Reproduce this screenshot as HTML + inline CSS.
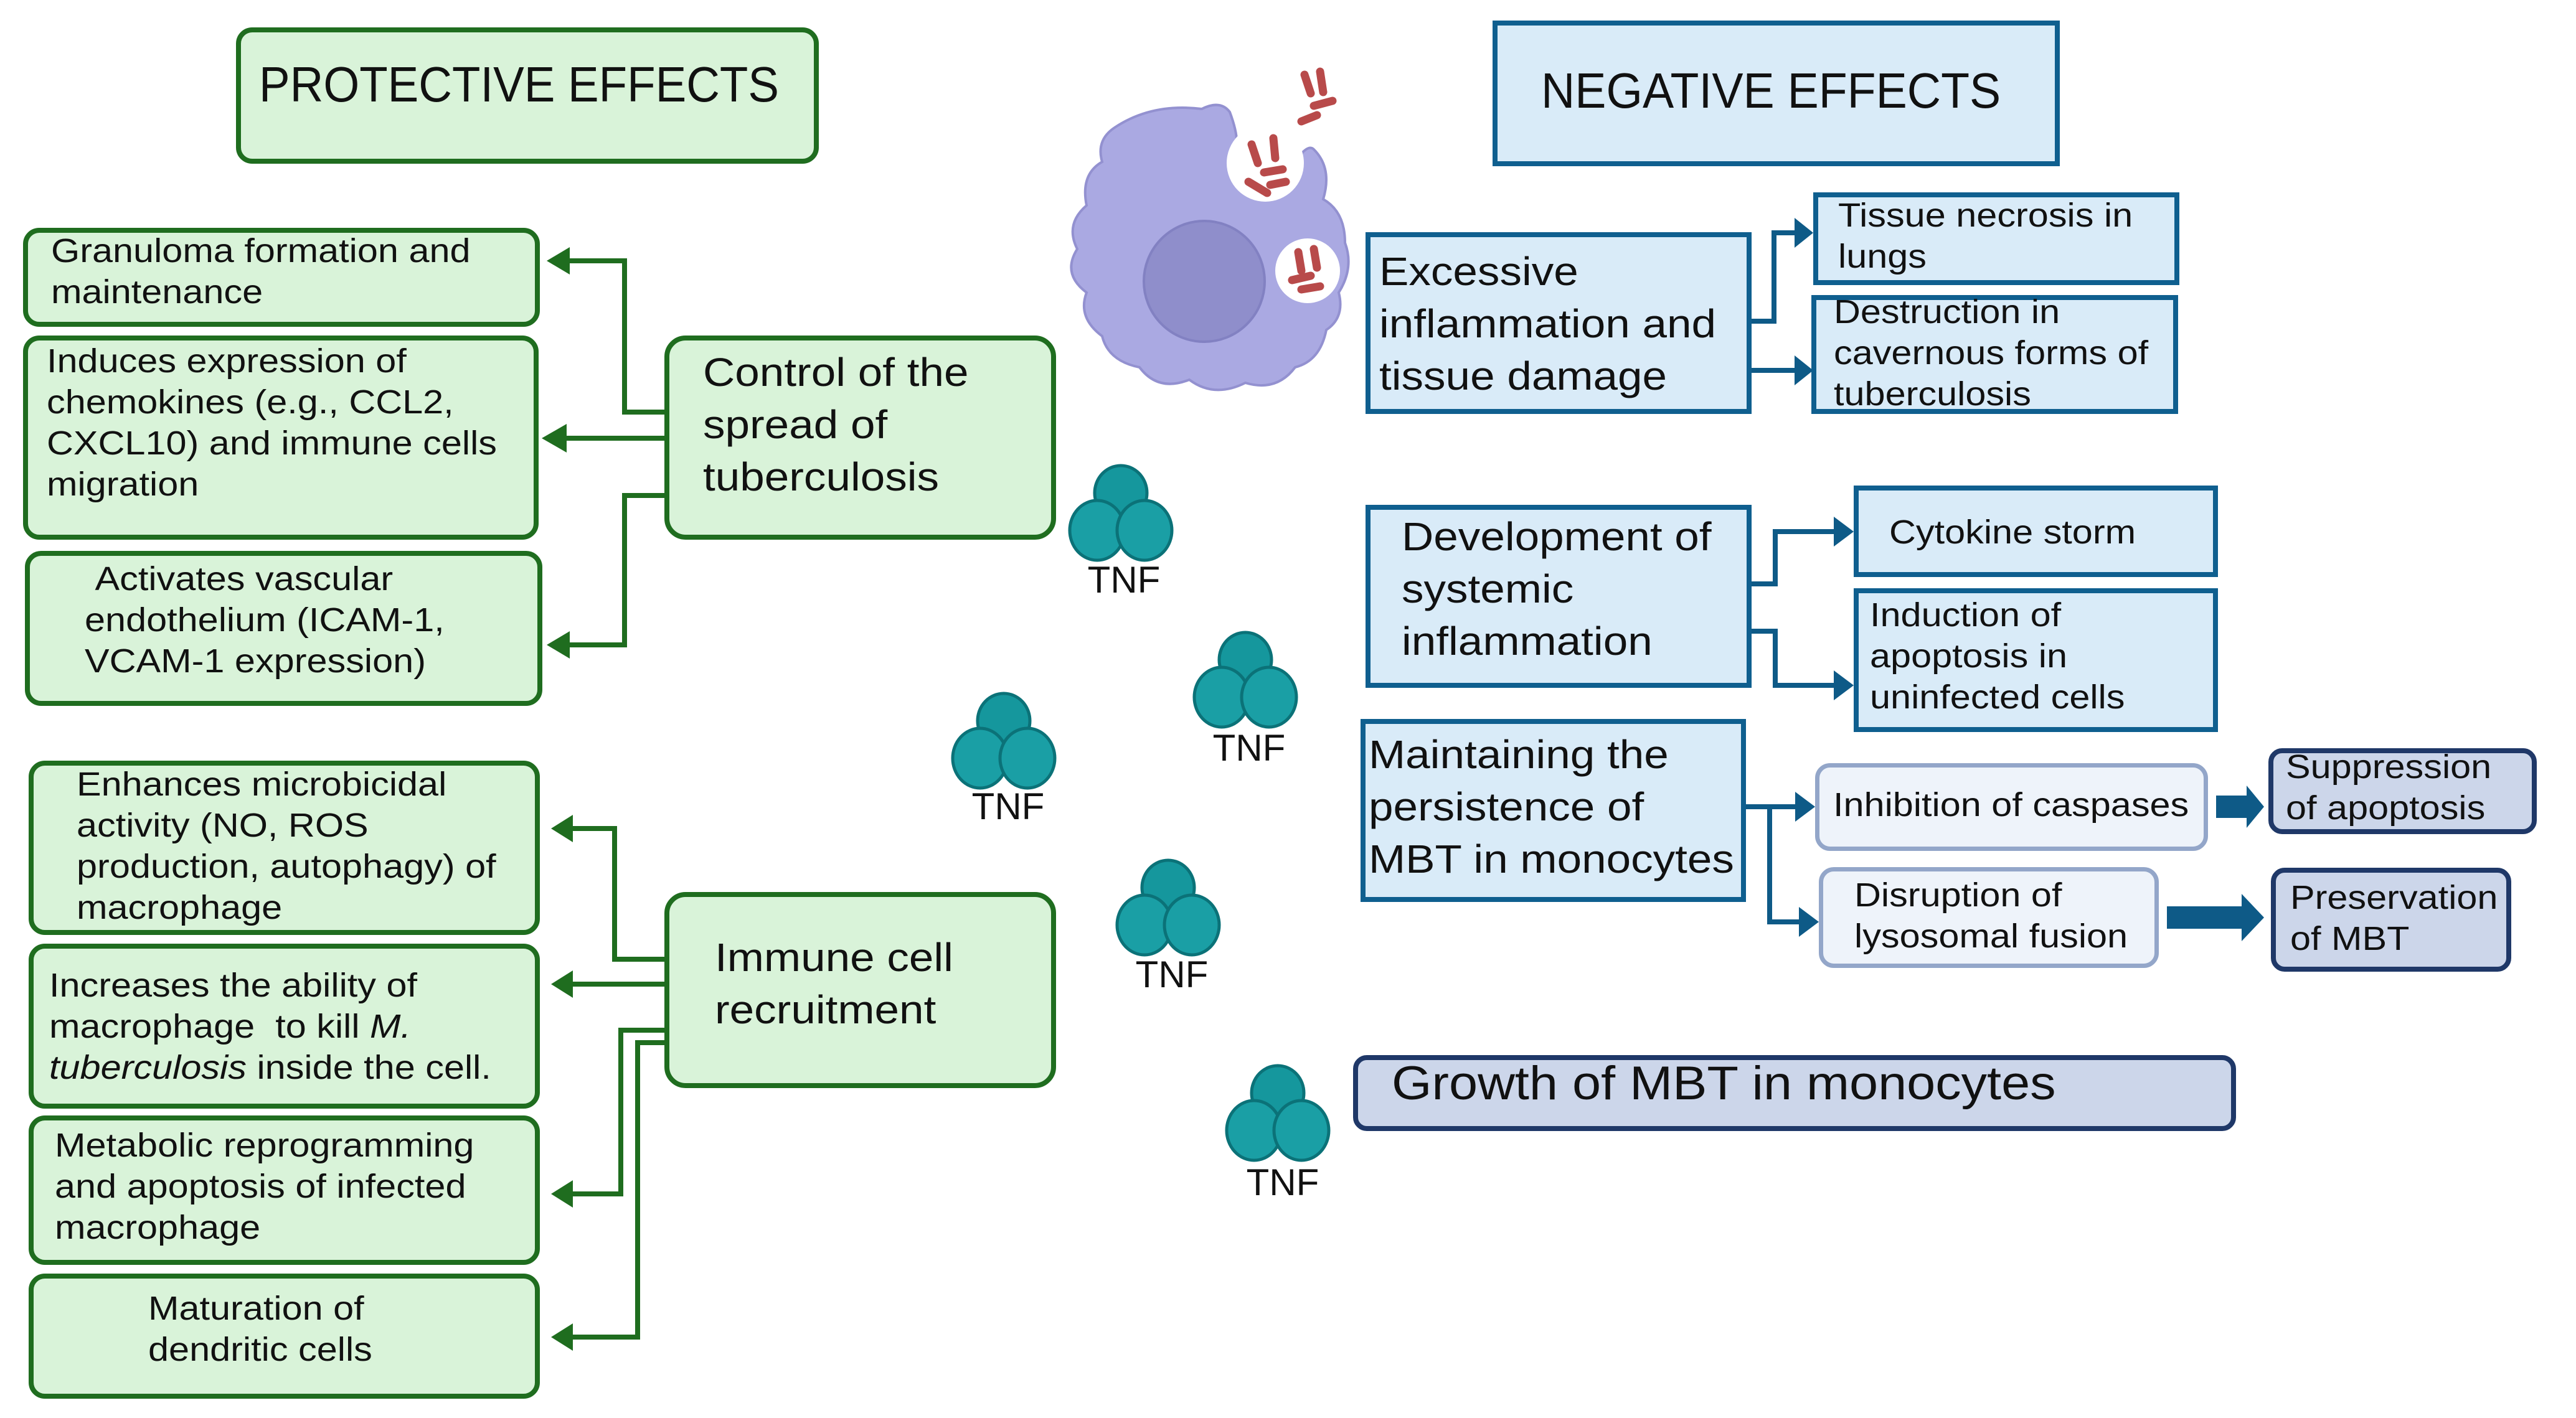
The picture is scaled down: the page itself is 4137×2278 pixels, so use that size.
<!DOCTYPE html>
<html><head><meta charset="utf-8"><style>
body{margin:0;width:4137px;height:2278px;background:#fff;position:relative;overflow:hidden;font-family:"Liberation Sans",sans-serif;color:#111}
.b{position:absolute;box-sizing:border-box}
.g{background:#d9f3d9;border:8px solid #1f6d1f;border-radius:26px}
.bl{background:#d9ebf8;border:8px solid #0f5f8f}
.lt{background:#eef3fa;border:7px solid #93a6c9;border-radius:24px}
.dk{background:#ccd6ea;border:8px solid #1f3868;border-radius:22px}
.t{position:absolute;white-space:nowrap;transform-origin:0 0}
.s{font-size:54px;line-height:66px;transform:scaleX(1.1)}
.m{font-size:64px;line-height:84px;transform:scaleX(1.11)}
svg{position:absolute;left:0;top:0}
</style></head><body>
<svg width="4137" height="2278" viewBox="0 0 4137 2278">
<defs>
<g id="tnf">
<ellipse cx="0" cy="-30" rx="42" ry="44" fill="#15979d" stroke="#0b7278" stroke-width="5"/>
<ellipse cx="-38" cy="30" rx="44" ry="48" fill="#1a9fa5" stroke="#0b7278" stroke-width="5"/>
<ellipse cx="38" cy="30" rx="44" ry="48" fill="#1a9fa5" stroke="#0b7278" stroke-width="5"/>
</g>
</defs>
<path d="M1790 205 Q1850 165 1930 175 Q1960 160 1975 180 Q1990 220 1985 240 Q1975 280 2010 300 Q2060 310 2080 260 Q2100 230 2110 240 Q2140 270 2125 320 Q2160 340 2160 390 Q2175 430 2150 470 Q2160 510 2130 530 Q2120 580 2080 590 Q2050 630 2000 615 Q1950 640 1910 610 Q1860 630 1830 590 Q1780 580 1770 540 Q1730 510 1745 470 Q1705 440 1730 400 Q1710 360 1745 330 Q1735 280 1770 260 Q1760 225 1790 205Z" fill="#aaa9e2" stroke="#9391d0" stroke-width="4"/>
<circle cx="1934" cy="452" r="97" fill="#8f8ecb" stroke="#8281c2" stroke-width="4"/>
<circle cx="2032" cy="262" r="62" fill="#fff"/>
<circle cx="2100" cy="435" r="52" fill="#fff"/>
<g stroke="#b84a4a" stroke-width="13" stroke-linecap="round">
<line x1="2010" y1="232" x2="2020" y2="262"/><line x1="2045" y1="222" x2="2048" y2="254"/><line x1="2030" y1="277" x2="2060" y2="272"/><line x1="2005" y1="292" x2="2035" y2="310"/><line x1="2040" y1="297" x2="2065" y2="292"/>
<line x1="2085" y1="405" x2="2090" y2="435"/><line x1="2110" y1="400" x2="2115" y2="430"/><line x1="2075" y1="450" x2="2105" y2="443"/><line x1="2090" y1="465" x2="2120" y2="460"/>
<line x1="2095" y1="120" x2="2105" y2="150"/><line x1="2120" y1="115" x2="2125" y2="148"/><line x1="2110" y1="170" x2="2140" y2="162"/><line x1="2090" y1="195" x2="2115" y2="185"/>
</g>
<use href="#tnf" x="1800" y="822"/><use href="#tnf" x="2000" y="1090"/><use href="#tnf" x="1612" y="1188"/><use href="#tnf" x="1876" y="1456"/><use href="#tnf" x="2052" y="1786"/>
<g font-family="Liberation Sans,sans-serif" font-size="60" text-anchor="middle" fill="#111">
<text x="1805" y="952">TNF</text><text x="2006" y="1222">TNF</text><text x="1619" y="1316">TNF</text><text x="1882" y="1586">TNF</text><text x="2060" y="1920">TNF</text>
</g>
<g stroke="#1f6d1f" stroke-width="8" fill="none">
<polyline points="1067,662 1003,662 1003,419 910,419"/>
<line x1="1067" y1="704" x2="905" y2="704"/>
<polyline points="1067,796 1003,796 1003,1036 910,1036"/>
<polyline points="1067,1541 987,1541 987,1331 915,1331"/>
<line x1="1067" y1="1581" x2="915" y2="1581"/>
<polyline points="1067,1655 997,1655 997,1918 915,1918"/>
<polyline points="1067,1675 1024,1675 1024,2148 915,2148"/>
</g>
<g fill="#1f6d1f">
<polygon points="878,419 915,397 915,441"/><polygon points="870,704 910,681 910,727"/><polygon points="878,1036 915,1014 915,1058"/>
<polygon points="885,1331 920,1309 920,1353"/><polygon points="885,1581 920,1559 920,1603"/><polygon points="885,1918 920,1896 920,1940"/><polygon points="885,2148 920,2126 920,2170"/>
</g>
<g stroke="#0e5a87" stroke-width="8" fill="none">
<polyline points="2813,516 2849,516 2849,374 2885,374"/>
<line x1="2813" y1="595" x2="2885" y2="595"/>
<polyline points="2813,938 2851,938 2851,854 2945,854"/>
<polyline points="2813,1014 2851,1014 2851,1101 2945,1101"/>
<line x1="2804" y1="1296" x2="2885" y2="1296"/>
<polyline points="2842,1296 2842,1481 2890,1481"/>
</g>
<g fill="#0e5a87">
<polygon points="2912,374 2882,350 2882,398"/><polygon points="2912,595 2882,571 2882,619"/>
<polygon points="2977,854 2945,830 2945,878"/><polygon points="2977,1101 2945,1077 2945,1125"/>
<polygon points="2915,1296 2883,1272 2883,1320"/><polygon points="2921,1481 2889,1457 2889,1505"/>
<polygon points="3559,1278 3608,1278 3608,1262 3636,1296 3608,1330 3608,1314 3559,1314"/>
<polygon points="3480,1456 3600,1456 3600,1436 3636,1474 3600,1512 3600,1492 3480,1492"/>
</g>
</svg>

<div class="b g" style="left:379px;top:44px;width:936px;height:219px"></div>
<div class="t" style="left:416px;top:96px;font-size:80px;line-height:80px;transform:scaleX(0.93)">PROTECTIVE EFFECTS</div>

<div class="b g" style="left:37px;top:366px;width:830px;height:159px"></div>
<div class="t s" style="left:82px;top:370px">Granuloma formation and<br>maintenance</div>
<div class="b g" style="left:37px;top:539px;width:828px;height:328px"></div>
<div class="t s" style="left:75px;top:547px">Induces expression of<br>chemokines (e.g., CCL2,<br>CXCL10) and immune cells<br>migration</div>
<div class="b g" style="left:40px;top:885px;width:831px;height:249px"></div>
<div class="t s" style="left:136px;top:897px">&nbsp;Activates vascular<br>endothelium (ICAM-1,<br>VCAM-1 expression)</div>
<div class="b g" style="left:1067px;top:539px;width:629px;height:328px;border-radius:34px"></div>
<div class="t m" style="left:1129px;top:556px">Control of the<br>spread of<br>tuberculosis</div>

<div class="b g" style="left:46px;top:1222px;width:821px;height:280px"></div>
<div class="t s" style="left:123px;top:1227px">Enhances microbicidal<br>activity (NO, ROS<br>production, autophagy) of<br>macrophage</div>
<div class="b g" style="left:46px;top:1516px;width:821px;height:265px"></div>
<div class="t s" style="left:79px;top:1550px">Increases the ability of<br>macrophage &nbsp;to kill <i>M.</i><br><i>tuberculosis</i> inside the cell.</div>
<div class="b g" style="left:46px;top:1792px;width:821px;height:240px"></div>
<div class="t s" style="left:88px;top:1807px">Metabolic reprogramming<br>and apoptosis of infected<br>macrophage</div>
<div class="b g" style="left:46px;top:2046px;width:821px;height:201px"></div>
<div class="t s" style="left:238px;top:2069px">Maturation of<br>dendritic cells</div>
<div class="b g" style="left:1067px;top:1433px;width:629px;height:315px;border-radius:34px"></div>
<div class="t m" style="left:1148px;top:1496px">Immune cell<br>recruitment</div>

<div class="b bl" style="left:2397px;top:33px;width:911px;height:234px"></div>
<div class="t" style="left:2475px;top:106px;font-size:80px;line-height:80px;transform:scaleX(0.94)">NEGATIVE EFFECTS</div>

<div class="b bl" style="left:2193px;top:373px;width:620px;height:292px"></div>
<div class="t m" style="left:2215px;top:394px">Excessive<br>inflammation and<br>tissue damage</div>
<div class="b bl" style="left:2912px;top:309px;width:588px;height:149px"></div>
<div class="t s" style="left:2952px;top:313px">Tissue necrosis in<br>lungs</div>
<div class="b bl" style="left:2909px;top:474px;width:589px;height:191px"></div>
<div class="t s" style="left:2945px;top:468px">Destruction in<br>cavernous forms of<br>tuberculosis</div>

<div class="b bl" style="left:2193px;top:811px;width:620px;height:294px"></div>
<div class="t m" style="left:2251px;top:820px">Development of<br>systemic<br>inflammation</div>
<div class="b bl" style="left:2977px;top:780px;width:585px;height:147px"></div>
<div class="t s" style="left:3034px;top:822px">Cytokine storm</div>
<div class="b bl" style="left:2977px;top:945px;width:585px;height:231px"></div>
<div class="t s" style="left:3003px;top:955px">Induction of<br>apoptosis in<br>uninfected cells</div>

<div class="b bl" style="left:2185px;top:1155px;width:619px;height:294px"></div>
<div class="t m" style="left:2198px;top:1170px">Maintaining the<br>persistence of<br>MBT in monocytes</div>
<div class="b lt" style="left:2915px;top:1226px;width:631px;height:141px"></div>
<div class="t s" style="left:2944px;top:1260px">Inhibition of caspases</div>
<div class="b lt" style="left:2921px;top:1393px;width:546px;height:162px"></div>
<div class="t s" style="left:2978px;top:1405px">Disruption of<br>lysosomal fusion</div>
<div class="b dk" style="left:3643px;top:1202px;width:431px;height:138px"></div>
<div class="t s" style="left:3671px;top:1199px">Suppression<br>of apoptosis</div>
<div class="b dk" style="left:3647px;top:1394px;width:386px;height:167px"></div>
<div class="t s" style="left:3678px;top:1409px">Preservation<br>of MBT</div>

<div class="b dk" style="left:2173px;top:1695px;width:1418px;height:122px"></div>
<div class="t" style="left:2235px;top:1703px;font-size:76px;line-height:76px;transform:scaleX(1.09)">Growth of MBT in monocytes</div>
</body></html>
